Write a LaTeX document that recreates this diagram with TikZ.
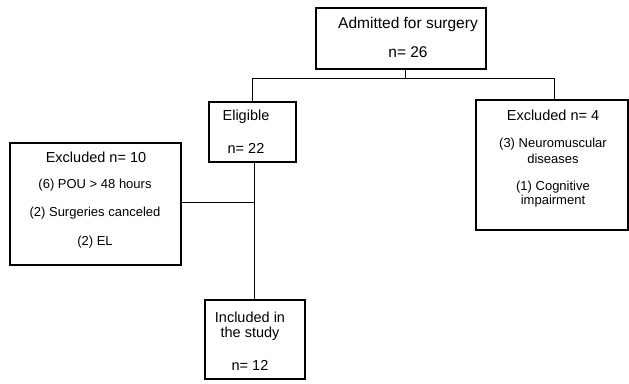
\documentclass[tikz,border=0pt]{standalone}
\usepackage{fontspec}
\setmainfont{Liberation Sans}
\begin{document}
\begin{tikzpicture}[x=1pt,y=-1pt,
  box/.style={draw,line width=1.6pt,rectangle,inner sep=0pt,anchor=north west},
  conn/.style={line width=0.9pt},
  head/.style={font=\fontsize{14.5}{17}\selectfont,inner sep=0pt},
  bighead/.style={font=\fontsize{15.5}{18}\selectfont,inner sep=0pt},
  item/.style={font=\fontsize{13}{15}\selectfont,inner sep=0pt}]
\useasboundingbox (0,0) rectangle (629,383);
% boxes
\node[box,minimum width=170pt,minimum height=61pt] (top) at (315,7) {};
\node[box,minimum width=87pt,minimum height=60pt] (elig) at (208,101) {};
\node[box,minimum width=171pt,minimum height=122pt] (exl) at (9,142) {};
\node[box,minimum width=152pt,minimum height=130pt] (exr) at (475,99) {};
\node[box,minimum width=100pt,minimum height=79pt] (inc) at (204,299) {};
% texts
\node[bighead] (t1) at (408,24) {Admitted for surgery};
\node[bighead] (t2) at (408,52) {n= 26};
\node[head] (e1) at (246,117) {Eligible};
\node[head] (e2) at (246,148) {n= 22};
\node[head] (l1) at (96,157) {Excluded n= 10};
\node[item] (l2) at (95,185) {(6) POU > 48 hours};
\node[item] (l3) at (95,213) {(2) Surgeries canceled};
\node[item] (l4) at (95,242) {(2) EL};
\node[head] (r1) at (553,115) {Excluded n= 4};
\node[item] (r2) at (553,144) {(3) Neuromuscular};
\node[item] (r3) at (553,159) {diseases};
\node[item] (r4) at (553,187) {(1) Cognitive};
\node[item] (r5) at (553,201) {impairment};
\node[head] (i1) at (250,317) {Included in};
\node[head] (i2) at (250,334) {the study};
\node[head] (i3) at (250,365) {n= 12};
% connectors
\coordinate (ja) at (405,78);
\coordinate (jl) at (252,78);
\coordinate (jr) at (554,78);
\coordinate (jm) at (254,202);
\draw[conn] (top.south -| ja) -- (ja);
\draw[conn] (jl) -- (jr);
\draw[conn] (jl) -- (jl |- elig.north);
\draw[conn] (jr) -- (jr |- exr.north);
\draw[conn] (jm |- elig.south) -- (jm |- inc.north);
\draw[conn] (exl.east |- jm) -- (jm);
\end{tikzpicture}
\end{document}
